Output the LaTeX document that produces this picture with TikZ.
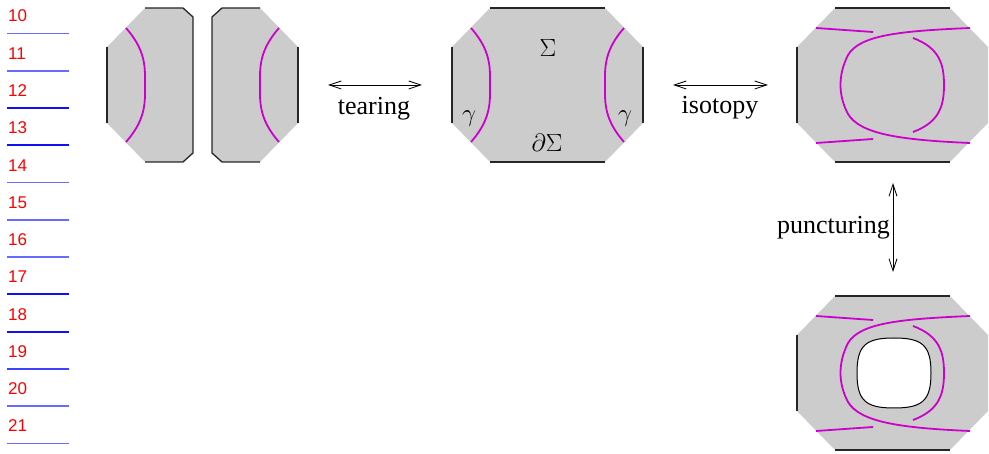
\documentclass[tikz,border=0pt]{standalone}
\usepackage{fontspec}
\setmainfont{Liberation Serif}
\newfontfamily\numfont{Liberation Sans}
\usetikzlibrary{arrows.meta}
\definecolor{surf}{HTML}{CCCCCC}
\definecolor{curvecol}{HTML}{CC00CC}
\definecolor{lnlight}{HTML}{6A6AFF}
\definecolor{lndark}{HTML}{1010F0}
\definecolor{lnmid}{HTML}{4040FF}
\tikzset{
  surface/.style={fill=surf},
  bdry/.style={draw=black!85,line width=1.3pt},
  strand/.style={draw=curvecol,line width=1.8pt},
  hole/.style={draw=black,fill=white,line width=1pt},
  dblarrow/.style={draw=black,line width=0.8pt,{Straight Barb[length=12pt,width=8pt]}-{Straight Barb[length=12pt,width=8pt]}},
  lbl/.style={font=\fontsize{26}{30}\selectfont,inner sep=0pt},
  mathlbl/.style={font=\fontsize{26}{30}\selectfont,inner sep=0pt},
  numlbl/.style={font=\numfont\fontsize{17}{20}\selectfont,text=red,inner sep=0pt,anchor=base west},
  numline/.style={line width=1.8pt}
}
\newcommand{\octfill}{\fill[surface] (38,0) -- (153,0) -- (191,39) -- (191,115) -- (153,154) -- (38,154) -- (0,115) -- (0,39) -- cycle;}
\newcommand{\leftstrand}{\draw[strand] (19,20) .. controls (33,36) and (38,50) .. (38,68) -- (38,86) .. controls (38,104) and (33,118) .. (19,134);}
\newcommand{\rightstrand}{\draw[strand] (172,20) .. controls (158,36) and (153,50) .. (153,68) -- (153,86) .. controls (153,104) and (158,118) .. (172,134);}
\newcommand{\braidstrands}{%
  \draw[strand] (19,20) -- (76,24);
  \draw[strand] (19,135) -- (76,131);
  \draw[strand] (173,20) .. controls (103,23) and (63,27) .. (51,47) .. controls (41,67) and (41,87) .. (51,106) .. controls (63,126) and (103,132) .. (173,135);
  \draw[strand] (116,30) .. controls (143,40) and (147,57) .. (147,77) .. controls (147,97) and (143,114) .. (116,124);}
\begin{document}
\begin{tikzpicture}[x=1pt,y=-1pt]
\useasboundingbox (0,0) rectangle (989,454);
% line numbers
\foreach \n/\lncol [count=\k from 0] in {10/lnlight,11/lnlight,12/lndark,13/lndark,14/lnlight,15/lnlight,16/lnlight,17/lndark,18/lndark,19/lnmid,20/lnlight,21/lnlight}{
  \node[numlbl] (num\n) at (8,{22+37.27*\k}) {\n};
  \draw[numline,draw=\lncol] (7,{33.5+37.27*\k}) coordinate (ls\n) -- (69,{33.5+37.27*\k}) coordinate (le\n);
}
% torn surface
\begin{scope}[shift={(107,8)}]
  \fill[surface] (38,0) -- (76,0) -- (86,9) -- (86,145) -- (76,154) -- (38,154) -- (0,115) -- (0,39) -- cycle;
  \fill[surface] (115,0) -- (153,0) -- (191,39) -- (191,115) -- (153,154) -- (115,154) -- (105,145) -- (105,9) -- cycle;
  \draw[bdry] (0,39) -- (0,115);
  \draw[bdry] (38,0) -- (76,0) -- (86,9) -- (86,145) -- (76,154) -- (38,154);
  \draw[bdry] (153,0) -- (115,0) -- (105,9) -- (105,145) -- (115,154) -- (153,154);
  \draw[bdry] (191,39) -- (191,115);
  \leftstrand
  \rightstrand
\end{scope}
% middle surface
\begin{scope}[shift={(452,8)}]
  \octfill
  \draw[bdry] (38,0) -- (153,0);
  \draw[bdry] (38,154) -- (153,154);
  \draw[bdry] (0,39) -- (0,115);
  \draw[bdry] (191,39) -- (191,115);
  \leftstrand
  \rightstrand
\end{scope}
\node[mathlbl,anchor=base] (sigma) at (548,57) {$\Sigma$};
\node[mathlbl,anchor=base] (dsigma) at (547,152) {$\partial\Sigma$};
\node[mathlbl] (gammaL) at (469,119) {$\gamma$};
\node[mathlbl] (gammaR) at (625,119) {$\gamma$};
% top right surface
\begin{scope}[shift={(797,8)}]
  \octfill
  \draw[bdry] (38,0) -- (153,0);
  \draw[bdry] (38,154) -- (153,154);
  \draw[bdry] (0,39) -- (0,115);
  \braidstrands
\end{scope}
% bottom right surface
\begin{scope}[shift={(797,296)}]
  \octfill
  \draw[bdry] (38,0) -- (153,0);
  \draw[bdry] (38,154) -- (153,154);
  \draw[bdry] (0,39) -- (0,115);
  \draw[hole] (134,77) .. controls (134,49) and (125,42) .. (97,42) .. controls (69,42) and (60,49) .. (60,77) .. controls (60,105) and (69,112) .. (97,112) .. controls (125,112) and (134,105) .. (134,77) -- cycle;
  \braidstrands
\end{scope}
% arrows
\coordinate (tearA) at (328,85);
\coordinate (tearB) at (422,85);
\draw[dblarrow] (tearA) -- (tearB);
\node[lbl,anchor=base] (tearing) at (374,115) {tearing};
\coordinate (isoA) at (673,85);
\coordinate (isoB) at (768,85);
\draw[dblarrow] (isoA) -- (isoB);
\node[lbl,anchor=base] (isotopy) at (720,114) {isotopy};
\coordinate (punA) at (893,183);
\coordinate (punB) at (893,272);
\draw[dblarrow] (punA) -- (punB);
\node[lbl,anchor=base east] (puncturing) at (890,234) {puncturing};
\end{tikzpicture}
\end{document}
